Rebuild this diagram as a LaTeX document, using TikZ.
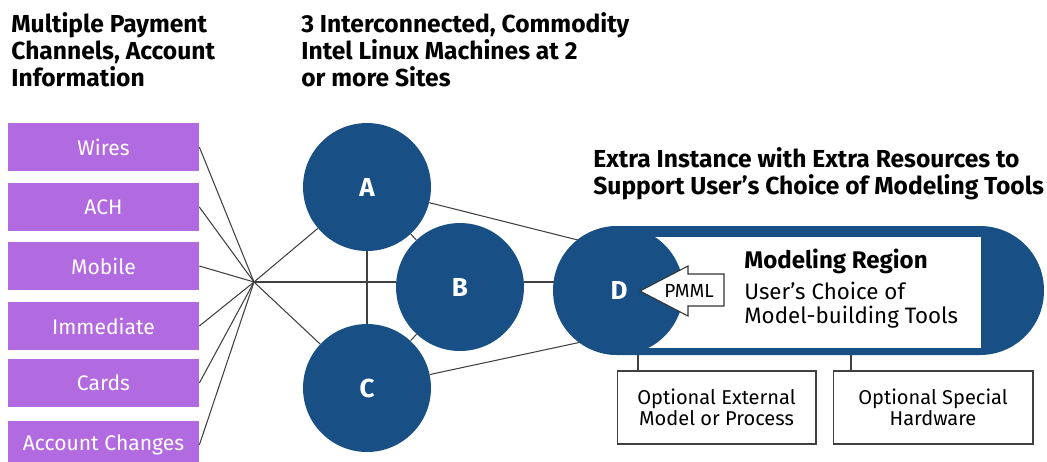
\documentclass[tikz,border=0pt]{standalone}
\usepackage{fontspec}
\setmainfont{Fira Sans}

\definecolor{ibmblue}{RGB}{24,80,134}
\definecolor{chanpurple}{RGB}{178,106,224}
\definecolor{wiregray}{RGB}{64,64,64}

\tikzset{
	chan/.style={fill=chanpurple, text=white, minimum width=3.82cm, minimum height=0.96cm, inner sep=0pt, font=\fontsize{12}{14}\selectfont},
	machine/.style={circle, fill=ibmblue, text=white, minimum size=2.56cm, inner sep=0pt, font=\fontsize{14.8}{16}\selectfont\bfseries},
	heading/.style={anchor=north west, align=left, inner sep=0pt, font=\fontsize{14}{15.3}\selectfont\bfseries},
	option/.style={draw=wiregray, fill=white, line width=0.6pt, minimum width=3.98cm, minimum height=1.46cm, align=center, font=\fontsize{11.4}{12}\selectfont},
	pill/.style={fill=ibmblue, minimum width=9.82cm, minimum height=2.58cm, rounded corners=1.28cm, inner sep=0pt},
	wire/.style={draw=wiregray, line width=0.6pt}
}

\begin{document}
\begin{tikzpicture}[x=0.02cm,y=-0.02cm]
	\useasboundingbox (0,0) rectangle (1047,461);
	%headings
	\node[heading] (payhead) at (11,12) {Multiple Payment\\Channels, Account\\Information};
	\node[heading] (machhead) at (301,12) {3 Interconnected, Commodity\\Intel Linux Machines at 2\\or more Sites};
	\node[heading] (extrahead) at (593,147) {Extra Instance with Extra Resources to\\Support User's Choice of Modeling Tools};
	%payment channels
	\node[chan] (wires) at (103.5,147) {Wires};
	\node[chan] (ach) at (103.5,207) {ACH};
	\node[chan] (mobile) at (103.5,266) {Mobile};
	\node[chan] (immediate) at (103.5,326) {Immediate};
	\node[chan] (cards) at (103.5,383) {Cards};
	\node[chan] (acctchg) at (103.5,445) {Account Changes};
	%machines
	\node[machine] (A) at (367,187) {A};
	\node[machine] (B) at (460,287) {B};
	\node[machine] (C) at (367,388) {C};
	\coordinate (hub) at (254,282);
	\draw[wire] (wires.east) -- (hub);
	\draw[wire] (ach.east) -- (hub);
	\draw[wire] (mobile.east) -- (hub);
	\draw[wire] (immediate.east) -- (hub);
	\draw[wire] (cards.east) -- (hub);
	\draw[wire] (acctchg.east) -- (hub);
	\draw[wire] (hub) -- (A);
	\draw[wire] (hub) -- (hub -| B.west);
	\draw[wire] (hub) -- (C);
	\draw[wire] (A) -- (C);
	\draw[wire] (A) -- (B);
	\draw[wire] (B) -- (C);
	%modeling region
	\node[pill] (region) at (798.5,290.5) {};
	\node[fill=white, minimum width=7.28cm, minimum height=2.22cm, inner sep=0pt] (inner) at (799,292.5) {};
	\node[machine, minimum size=2.58cm] (D) at (619,290.5) {D};
	\draw[wire] (A) -- (D.129);
	\draw[wire] (hub -| B.east) -- (hub -| D.west);
	\draw[wire] (C) -- (D.233);
	\draw[draw=black!80, fill=white, line width=0.6pt] (724,274) -- (688,274) -- (688,266) -- (640,291) -- (688,316) -- (688,306) -- (724,306) -- cycle;
	\node[font=\fontsize{10.8}{12}\selectfont] (pmml) at (689,291) {PMML};
	\node[anchor=north west, inner sep=0pt, font=\fontsize{13.7}{14}\selectfont\bfseries] (regtitle) at (744,249) {Modeling Region};
	\node[anchor=north west, inner sep=0pt, align=left, font=\fontsize{12.7}{13.6}\selectfont] (regtext) at (744,282) {User's Choice of\\Model-building Tools};
	%optional extras
	\node[option] (extmodel) at (716.5,407.5) {Optional External\\Model or Process};
	\node[option, minimum width=4cm] (hardware) at (933,407.5) {Optional Special\\Hardware};
	\coordinate (extup) at (638,355);
	\coordinate (hwup) at (851,355);
	\draw[wire] (extup) -- (extup |- extmodel.north);
	\draw[wire] (hwup) -- (hwup |- hardware.north);
\end{tikzpicture}
\end{document}
